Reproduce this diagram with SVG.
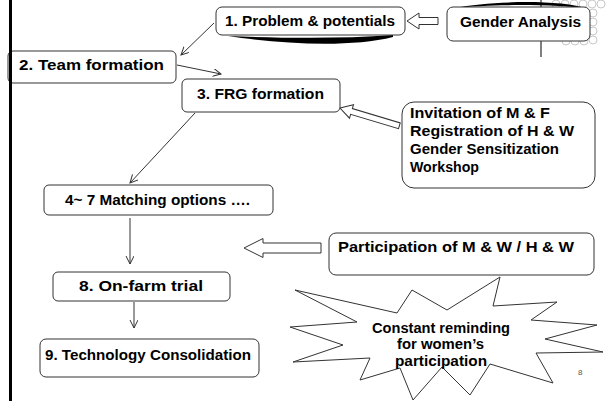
<svg xmlns="http://www.w3.org/2000/svg" width="606" height="401" viewBox="0 0 606 401">
<defs>
<style>
.box{fill:#fff;stroke:#333;stroke-width:1}
.t{font-family:"Liberation Sans",Arial,sans-serif;font-weight:bold;font-size:14px;fill:#000}
.ln{fill:none;stroke:#333;stroke-width:1}
.hol{fill:#fff;stroke:#333;stroke-width:1}
.dec{fill:none;stroke:#c8c8c8;stroke-width:1}
</style>
<marker id="ah" markerWidth="10" markerHeight="10" refX="8" refY="4" orient="auto" markerUnits="userSpaceOnUse">
<path d="M0,0 L8,4 L0,8" fill="none" stroke="#333" stroke-width="1"/>
</marker>
</defs>
<rect width="606" height="401" fill="#fff"/>
<g id="decor">
<circle class="dec" cx="556" cy="4" r="4"/><circle class="dec" cx="565" cy="4" r="4"/><circle class="dec" cx="574" cy="4" r="4"/><circle class="dec" cx="583" cy="4" r="4"/><circle class="dec" cx="592" cy="4" r="4"/><circle class="dec" cx="601" cy="4" r="4"/>
<circle class="dec" cx="593" cy="13" r="4"/><circle class="dec" cx="593" cy="22" r="4"/><circle class="dec" cx="593" cy="31" r="4"/><circle class="dec" cx="593" cy="40" r="4"/>
<circle class="dec" cx="566" cy="41" r="4"/><circle class="dec" cx="575" cy="41" r="4"/><circle class="dec" cx="584" cy="41" r="4"/>
<line x1="541" y1="0" x2="541" y2="7" stroke="#000" stroke-width="1"/>
<line x1="541" y1="41" x2="541" y2="57" stroke="#000" stroke-width="1"/>
</g>
<g id="connectors">
<line class="ln" x1="214" y1="23" x2="181" y2="55" marker-end="url(#ah)"/>
<line class="ln" x1="177" y1="65" x2="221" y2="74" marker-end="url(#ah)"/>
<line class="ln" x1="195" y1="113" x2="130" y2="183" marker-end="url(#ah)"/>
<line class="ln" x1="130" y1="218" x2="130" y2="264" marker-end="url(#ah)"/>
<line class="ln" x1="134" y1="302" x2="134" y2="328" marker-end="url(#ah)"/>
<polygon class="hol" points="407,21 419,13 419,17.5 438,17.5 438,24.5 419,24.5 419,29"/>
<polygon class="hol" transform="translate(340,108) rotate(16.7)" points="0,0 12,-7 12,-3 62,-3 62,3 12,3 12,7"/>
<polygon class="hol" points="244,248 263,238.5 263,243 321,243 321,253 263,253 263,257.5"/>
</g>
<g id="n1">
<path d="M228,36 C280,44 350,48 393,37 L393,35 C340,39 280,38 228,36 Z" fill="#000"/>
<rect class="box" x="216" y="7" width="189" height="28" rx="6"/>
<text class="t" x="225" y="26" textLength="170" lengthAdjust="spacingAndGlyphs">1. Problem &amp; potentials</text>
</g>
<g id="gender">
<path d="M455,8 C490,1 560,-1 588,9 C560,4 490,4 455,8 Z" fill="#000"/>
<rect class="box" x="447" y="7" width="143" height="34" rx="6"/>
<text class="t" x="460" y="27" textLength="121" lengthAdjust="spacingAndGlyphs">Gender Analysis</text>
</g>
<g id="n2">
<rect class="box" x="8" y="51" width="168" height="32" rx="5"/>
<text class="t" x="19" y="70" textLength="145" lengthAdjust="spacingAndGlyphs">2.  Team formation</text>
</g>
<g id="n3">
<rect class="box" x="182" y="79" width="158" height="33" rx="5"/>
<text class="t" x="197" y="99" textLength="127" lengthAdjust="spacingAndGlyphs">3. FRG formation</text>
</g>
<g id="inv">
<rect class="box" x="402" y="102" width="193" height="86" rx="12"/>
<text class="t" x="410" y="118" textLength="140" lengthAdjust="spacingAndGlyphs">Invitation of M &amp; F</text>
<text class="t" x="410" y="136" textLength="164" lengthAdjust="spacingAndGlyphs">Registration of H &amp; W</text>
<text class="t" x="410" y="154" textLength="149" lengthAdjust="spacingAndGlyphs">Gender Sensitization</text>
<text class="t" x="410" y="172" textLength="69" lengthAdjust="spacingAndGlyphs">Workshop</text>
</g>
<g id="n4">
<rect class="box" x="44" y="185" width="229" height="30" rx="5"/>
<text class="t" x="65" y="205" textLength="185" lengthAdjust="spacingAndGlyphs">4~ 7 Matching options ….</text>
</g>
<g id="part">
<rect class="box" x="329" y="233" width="265" height="42" rx="7"/>
<text class="t" x="338" y="252" textLength="236" lengthAdjust="spacingAndGlyphs">Participation of M &amp; W / H &amp; W</text>
</g>
<g id="n8">
<rect class="box" x="53" y="272" width="177" height="29" rx="5"/>
<text class="t" x="79" y="291" textLength="124" lengthAdjust="spacingAndGlyphs">8. On-farm trial</text>
</g>
<g id="n9">
<rect class="box" x="40" y="339" width="219" height="38" rx="6"/>
<text class="t" x="45" y="360" textLength="206" lengthAdjust="spacingAndGlyphs">9. Technology Consolidation</text>
</g>
<g id="star">
<polygon fill="#fff" stroke="#333" stroke-width="1" points="500,277 493,306 557,302 531,320 597,325 545,339 603,352 536,353 553,383 490,364 470,395 442,367 413,400 400,368 360,380 370,358 293,362 343,345 290,327 357,322 295,290 397,313 412,290 447,310"/>
<text class="t" x="372" y="333" textLength="138" lengthAdjust="spacingAndGlyphs">Constant reminding</text>
<text class="t" x="397" y="349" textLength="87" lengthAdjust="spacingAndGlyphs">for women’s</text>
<text class="t" x="395" y="366" textLength="92" lengthAdjust="spacingAndGlyphs">participation</text>
</g>
<text x="578" y="375" font-family="Liberation Sans, Arial, sans-serif" font-size="8" fill="#555">8</text>
<rect id="bar" x="9" y="0" width="3" height="401" fill="#000"/>
</svg>
